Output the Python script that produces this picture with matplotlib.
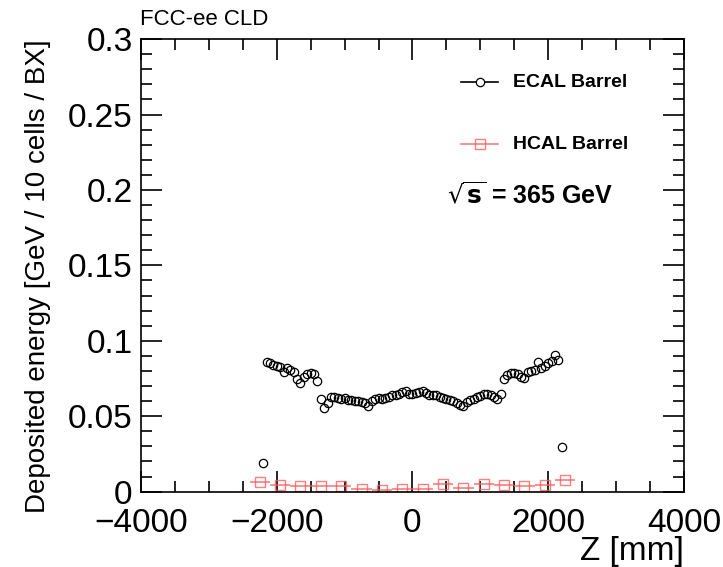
import numpy as np
import matplotlib
matplotlib.use('Agg')
import matplotlib.pyplot as plt
from matplotlib.ticker import MultipleLocator

plt.rcParams['font.family'] = ['Liberation Sans', 'DejaVu Sans']

# ECAL barrel: 50 mm bins along z
ecal_z = np.arange(-2200, 2201, 50)
ecal_e = [
    0.0187, 0.0862, 0.0851, 0.0840, 0.0830, 0.0826, 0.0790, 0.0822, 0.0808, 0.0795,
    0.0745, 0.0718, 0.0760, 0.0780, 0.0786, 0.0779, 0.0730, 0.0615, 0.0552, 0.0588,
    0.0630, 0.0628, 0.0620, 0.0615, 0.0618, 0.0610, 0.0604, 0.0598, 0.0600, 0.0592,
    0.0585, 0.0570, 0.0598, 0.0612, 0.0618, 0.0617, 0.0622, 0.0630, 0.0638, 0.0643,
    0.0648, 0.0660, 0.0664, 0.0650, 0.0648, 0.0652, 0.0658, 0.0668, 0.0655, 0.0642,
    0.0640, 0.0638, 0.0630, 0.0622, 0.0615, 0.0608, 0.0598, 0.0590, 0.0575, 0.0570,
    0.0595, 0.0608, 0.0615, 0.0628, 0.0635, 0.0645, 0.0648, 0.0640, 0.0630, 0.0612,
    0.0650, 0.0745, 0.0775, 0.0785, 0.0783, 0.0780, 0.0760, 0.0752, 0.0795, 0.0800,
    0.0808, 0.0860, 0.0818, 0.0835, 0.0850, 0.0868, 0.0905, 0.0875, 0.0297,
]

# HCAL barrel: 300 mm bins
hcal_edges = np.arange(-2400, 2401, 300)
hcal_e = [0.0063, 0.0041, 0.0036, 0.0035, 0.0038, 0.0019, 0.0012, 0.0019,
          0.0019, 0.0048, 0.0025, 0.0050, 0.0045, 0.0036, 0.0045, 0.0074]

xticks = [-4000, -2000, 0, 2000, 4000]
xtick_labels = ['\u22124000', '\u22122000', '0', '2000', '4000']
yticks = [0, 0.05, 0.1, 0.15, 0.2, 0.25, 0.3]
ytick_labels = ['0', '0.05', '0.1', '0.15', '0.2', '0.25', '0.3']

fig = plt.figure(figsize=(7.23, 5.67), dpi=100)
ax = fig.add_axes([0.195, 0.133, 0.751, 0.798])

hcal_c = 0.5 * (hcal_edges[:-1] + hcal_edges[1:])
hcal_w = 0.5 * np.diff(hcal_edges)
red = '#ff5c5c'
ax.errorbar(hcal_c, hcal_e, xerr=hcal_w, fmt='s', color=red, mfc='none', mec=red,
            ms=7, mew=1.0, elinewidth=1.2, capsize=0, alpha=0.8, label='HCAL Barrel')
ax.plot(ecal_z, ecal_e, 'o', mfc='none', mec='black', ms=6, mew=0.9,
        label='ECAL Barrel')

ax.set_xlim(-4000, 4000)
ax.set_ylim(0, 0.3)
ax.set_xticks(xticks)
ax.set_xticklabels(xtick_labels)
ax.set_yticks(yticks)
ax.set_yticklabels(ytick_labels)
ax.xaxis.set_minor_locator(MultipleLocator(500))
ax.yaxis.set_minor_locator(MultipleLocator(0.01))
ax.tick_params(which='both', direction='in', top=True, right=True, width=1.2,
               labelsize=24, colors='black')
ax.tick_params(which='major', length=15)
ax.tick_params(axis='x', which='major', pad=12)
ax.tick_params(axis='y', which='major', pad=6)
ax.tick_params(which='minor', length=8)
for s in ax.spines.values():
    s.set_linewidth(1.2)

ax.set_xlabel('Z [mm]', fontsize=24, loc='right', labelpad=-2)
ax.set_ylabel('Deposited energy [GeV / 10 cells / BX]', fontsize=20, loc='top', labelpad=12)

# legend drawn by hand in ROOT style
tr = ax.transAxes
ax.plot([0.59, 0.657], [0.905, 0.905], '-', color='black', lw=1.2, transform=tr)
ax.plot([0.6235], [0.905], 'o', mfc='white', mec='black', ms=6, mew=0.9, transform=tr)
ax.text(0.686, 0.905, 'ECAL Barrel', transform=tr, fontsize=14, fontweight='bold', va='center')
ax.plot([0.59, 0.657], [0.768, 0.768], '-', color=red, lw=1.2, alpha=0.8, transform=tr)
ax.plot([0.6235], [0.768], 's', mfc='none', mec=red, ms=7, mew=1.0, alpha=0.8, transform=tr)
ax.text(0.686, 0.768, 'HCAL Barrel', transform=tr, fontsize=14, fontweight='bold', va='center')
ax.text(0.563, 0.655, r'$\sqrt{\mathbf{s}}$ = 365 GeV', transform=tr, fontsize=18,
        fontweight='bold', va='center')

fig.text(0.193, 0.966, 'FCC-ee CLD', fontsize=16, va='center')

fig.savefig('out.png', dpi=100)
